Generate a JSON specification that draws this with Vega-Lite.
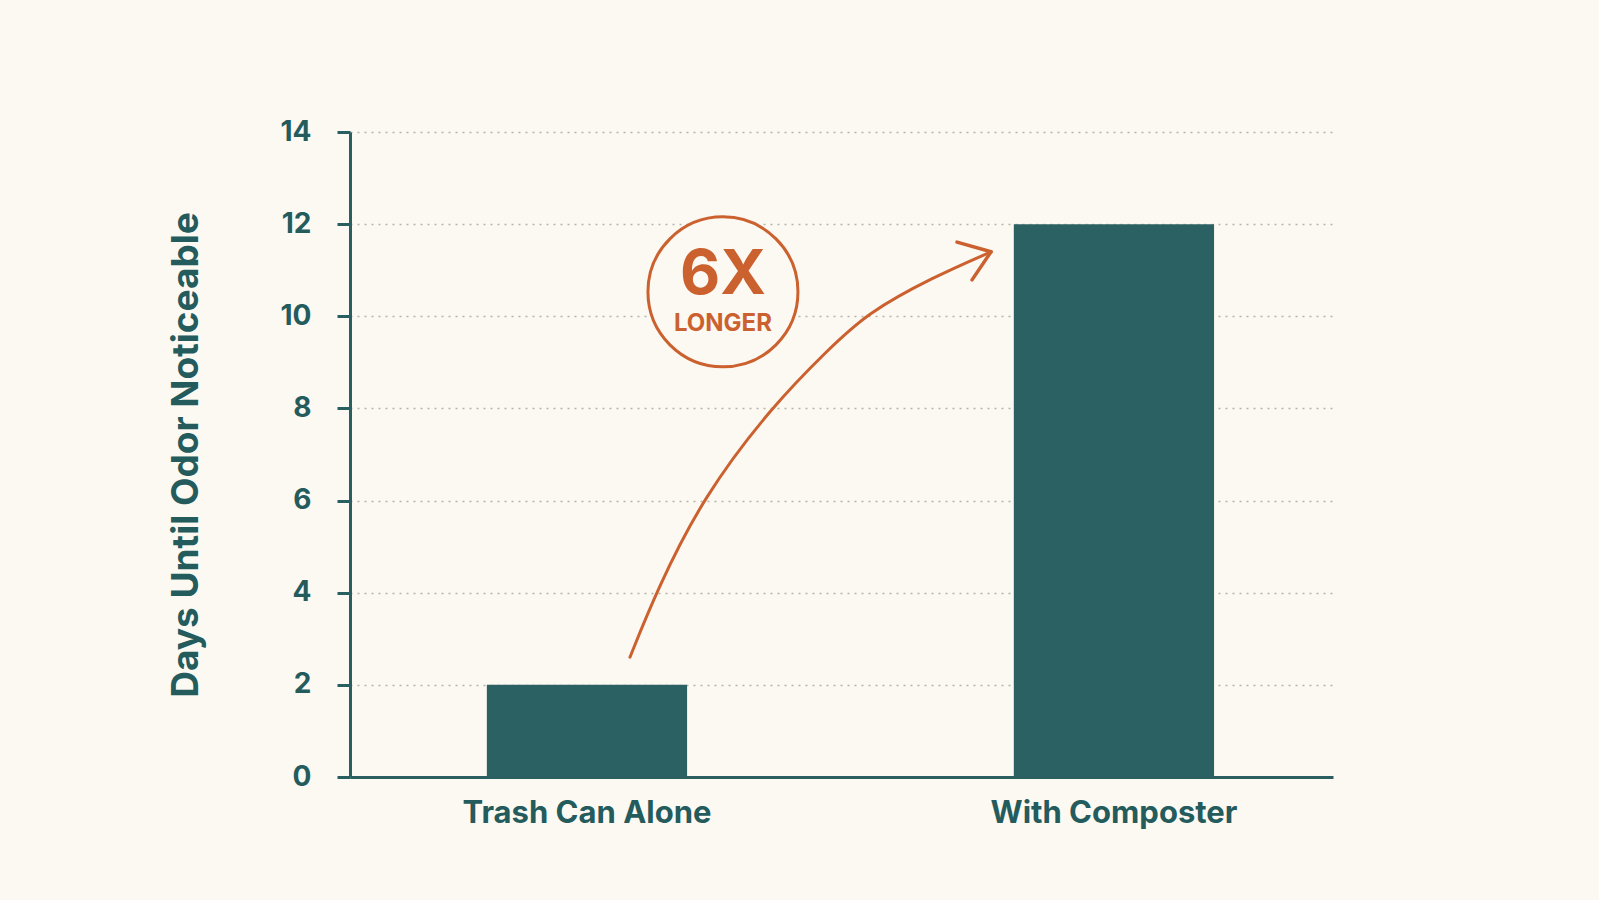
{
  "$schema": "https://vega.github.io/schema/vega-lite/v6.json",
  "autosize": {"type": "none"},
  "padding": {"left": 350, "top": 132, "right": 266, "bottom": 123},
  "width": 983,
  "height": 645,
  "background": "#fcf9f2",
  "config": {
    "view": {"stroke": null},
    "font": "Inter",
    "axis": {"labelFont": "Inter", "titleFont": "Inter"}
  },
  "datasets": {
    "bars": [
      {"group": "Trash Can Alone", "days": 2},
      {"group": "With Composter", "days": 12}
    ],
    "arrow": [
      {"pos": 0.2848, "days": 2.60},
      {"pos": 0.3123, "days": 4.06},
      {"pos": 0.3591, "days": 6.08},
      {"pos": 0.4303, "days": 8.07},
      {"pos": 0.4863, "days": 9.27},
      {"pos": 0.5259, "days": 10.07},
      {"pos": 0.5931, "days": 10.85},
      {"pos": 0.6521, "days": 11.40}
    ],
    "head": [
      {"pos": 0.6521, "days": 11.40, "pos2": 0.6175, "days2": 11.61},
      {"pos": 0.6521, "days": 11.40, "pos2": 0.6328, "days2": 10.79}
    ],
    "badge": [
      {"pos": 0.3794, "days": 10.53}
    ],
    "badgeText": [
      {"pos": 0.3794, "days": 10.9, "label": "6X", "kind": "big"},
      {"pos": 0.3794, "days": 9.83, "label": "LONGER", "kind": "small"}
    ]
  },
  "layer": [
    {
      "data": {"name": "bars"},
      "mark": {"type": "bar", "color": "#2c6163"},
      "encoding": {
        "x": {
          "field": "group",
          "type": "nominal",
          "sort": null,
          "scale": {"paddingInner": 0.62, "paddingOuter": 0.2427, "align": 0.535},
          "axis": {
            "title": null,
            "labelAngle": 0,
            "labelFontSize": 31,
            "labelFontWeight": "bold",
            "labelColor": "#245b5d",
            "labelPadding": 21,
            "labelLimit": 0,
            "ticks": false,
            "domainColor": "#2a5f61",
            "domainWidth": 3,
            "grid": false
          }
        },
        "y": {
          "field": "days",
          "type": "quantitative",
          "scale": {"domain": [0, 14], "nice": false},
          "axis": {
            "title": "Days Until Odor Noticeable",
            "titleFontSize": 37,
            "titleFontWeight": "bold",
            "titleColor": "#245b5d",
            "titlePadding": 74,
            "values": [0, 2, 4, 6, 8, 10, 12, 14],
            "labelFontSize": 28,
            "labelFontWeight": "bold",
            "labelColor": "#245b5d",
            "labelPadding": 26,
            "tickSize": 13,
            "tickWidth": 3,
            "tickColor": "#2a5f61",
            "domainColor": "#2a5f61",
            "domainWidth": 3,
            "grid": true,
            "gridColor": "#b3b4ad",
            "gridDash": [2, 5],
            "gridWidth": 1.5
          }
        }
      }
    },
    {
      "data": {"name": "badge"},
      "mark": {"type": "point", "shape": "circle", "size": 22500, "filled": true, "fill": "#fcf9f2", "stroke": "#cc6130", "strokeWidth": 3, "opacity": 1},
      "encoding": {
        "x": {"field": "pos", "type": "quantitative", "scale": {"domain": [0, 1]}, "axis": null},
        "y": {"field": "days", "type": "quantitative", "axis": null}
      }
    },
    {
      "data": {"name": "arrow"},
      "mark": {"type": "line", "color": "#cc6130", "strokeWidth": 3, "interpolate": "basis", "strokeCap": "round"},
      "encoding": {
        "x": {"field": "pos", "type": "quantitative", "scale": {"domain": [0, 1]}, "axis": null},
        "y": {"field": "days", "type": "quantitative", "axis": null}
      }
    },
    {
      "data": {"name": "head"},
      "mark": {"type": "rule", "color": "#cc6130", "strokeWidth": 3.5, "strokeCap": "round"},
      "encoding": {
        "x": {"field": "pos", "type": "quantitative", "scale": {"domain": [0, 1]}, "axis": null},
        "x2": {"field": "pos2"},
        "y": {"field": "days", "type": "quantitative", "axis": null},
        "y2": {"field": "days2"}
      }
    },
    {
      "data": {"name": "badgeText"},
      "mark": {"type": "text", "color": "#cc6130", "fontWeight": "bold", "baseline": "middle", "align": "center", "font": "Inter"},
      "encoding": {
        "x": {"field": "pos", "type": "quantitative", "scale": {"domain": [0, 1]}, "axis": null},
        "y": {"field": "days", "type": "quantitative", "axis": null},
        "text": {"field": "label"},
        "size": {"field": "kind", "type": "nominal", "scale": {"domain": ["big", "small"], "range": [62, 24]}, "legend": null}
      }
    }
  ],
  "resolve": {"scale": {"x": "independent"}, "axis": {"y": "independent"}}
}
